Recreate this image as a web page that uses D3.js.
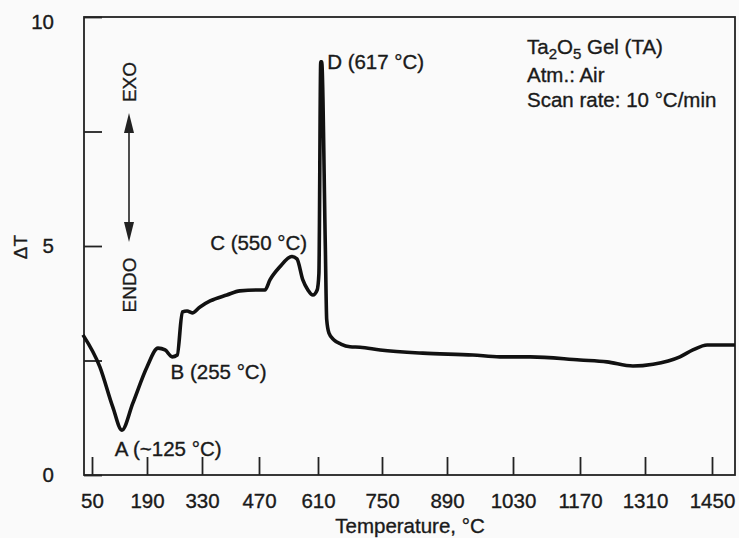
<!DOCTYPE html>
<html>
<head>
<meta charset="utf-8">
<script src="https://cdn.jsdelivr.net/npm/d3@7"></script>
<style>
  body { margin: 0; background: #fafafa; }
  svg text { font-family: "Liberation Sans", Arial, Helvetica, sans-serif; fill: #1a1a1a; stroke: #1a1a1a; stroke-width: 0.35; }
</style>
</head>
<body>
<svg id="dta" width="739" height="538"></svg>
<script>
// DTA curve of Ta2O5 gel
var temps  = [27, 70, 103, 126, 154, 190, 218, 236, 254, 267, 280, 292, 305, 325, 350, 391, 423, 472, 484, 496, 519, 548, 560, 574, 586, 598, 608, 612, 616, 618, 626, 629, 634, 645, 660, 680, 702, 746, 838, 945, 1002, 1066, 1170, 1228, 1284, 1327, 1383, 1410, 1440, 1498];
var deltaT = [3.06, 2.36, 1.48, 0.98, 1.57, 2.36, 2.77, 2.73, 2.58, 2.62, 3.56, 3.58, 3.54, 3.67, 3.80, 3.93, 4.02, 4.04, 4.04, 4.26, 4.54, 4.77, 4.72, 4.26, 4.04, 3.93, 4.04, 4.4, 9.02, 9.02, 5.0, 3.4, 3.1, 2.95, 2.86, 2.80, 2.79, 2.73, 2.66, 2.62, 2.58, 2.58, 2.51, 2.47, 2.38, 2.42, 2.58, 2.73, 2.84, 2.84];

var xTicks = [50, 190, 330, 470, 610, 750, 890, 1030, 1170, 1310, 1450];
var yTicks = [0, 2.5, 5, 7.5, 10];
var yTickLabels = ["0", "", "5", "", "10"];

var peakLabels = ["A (~125 \u00b0C)", "B (255 \u00b0C)", "C (550 \u00b0C)", "D (617 \u00b0C)"];
var peakLabelT = [108, 250, 350, 630];
var peakLabelV = [0.57, 2.25, 5.07, 9.02];

var infoLines = ["Gel (TA)", "Atm.: Air", "Scan rate: 10 \u00b0C/min"];

// the printed temperature axis is not evenly spaced, so map tick by tick
var xTickPx = [92, 147, 202, 259, 318, 382, 447, 513, 580, 645, 712];

var svg = d3.select("#dta"),
    pLeft = 84, pRight = 735, pTop = 17, pBottom = 475,
    tickLen = 18,
    fs = 20.5;

var x = d3.scaleLinear().domain(xTicks).range(xTickPx);
var y = d3.scaleLinear().domain([0, 10]).range([pBottom, pTop]);

// frame
svg.append("rect")
    .attr("x", pLeft).attr("y", pTop)
    .attr("width", pRight - pLeft).attr("height", pBottom - pTop)
    .attr("fill", "none")
    .attr("stroke", "#222")
    .attr("stroke-width", 1.8);

// x axis: ticks point inward
var xAxis = d3.axisBottom(x).tickValues(xTicks)
    .tickFormat(d3.format("d"))
    .tickSize(-tickLen).tickPadding(18);
var gx = svg.append("g")
    .attr("transform", "translate(0," + pBottom + ")")
    .call(xAxis);
gx.select(".domain").remove();
gx.selectAll("line").attr("stroke", "#222").attr("stroke-width", 1.8);
gx.selectAll("text")
    .attr("font-size", fs)
    .attr("font-family", "Liberation Sans, Arial, sans-serif")
    .attr("fill", "#1a1a1a");

// y axis
var yAxis = d3.axisLeft(y).tickValues(yTicks)
    .tickFormat(function(d, i) { return yTickLabels[i]; })
    .tickSize(-tickLen).tickPadding(tickLen + 12);
var gy = svg.append("g")
    .attr("transform", "translate(" + pLeft + ",0)")
    .call(yAxis);
gy.select(".domain").remove();
gy.selectAll("line").attr("stroke", "#222").attr("stroke-width", 1.8);
gy.selectAll("text")
    .attr("font-size", fs)
    .attr("font-family", "Liberation Sans, Arial, sans-serif")
    .attr("fill", "#1a1a1a");
gy.selectAll(".tick").filter(function(d) { return d === 10; })
    .select("text").attr("dy", "0.55em");

// axis titles
svg.append("text")
    .attr("x", 410).attr("y", 533)
    .attr("text-anchor", "middle")
    .attr("font-size", fs)
    .text("Temperature, \u00b0C");

svg.append("text")
    .attr("transform", "translate(27,247) rotate(-90)")
    .attr("text-anchor", "middle")
    .attr("font-size", 19)
    .text("\u0394T");

// the curve
var pts = temps.map(function(t, i) { return [t, deltaT[i]]; });
var line = d3.line()
    .x(function(d) { return x(d[0]); })
    .y(function(d) { return y(d[1]); })
    .curve(d3.curveMonotoneX);

svg.append("path")
    .datum(pts)
    .attr("d", line)
    .attr("fill", "none")
    .attr("stroke", "#111")
    .attr("stroke-width", 3.6)
    .attr("stroke-linejoin", "round");

// peak labels
svg.selectAll(".peak")
    .data(peakLabels)
    .enter().append("text")
    .attr("class", "peak")
    .attr("x", function(d, i) { return x(peakLabelT[i]); })
    .attr("y", function(d, i) { return y(peakLabelV[i]); })
    .attr("dy", "0.35em")
    .attr("font-size", fs)
    .text(function(d) { return d; });

// info block, top right
var info = svg.append("g").attr("transform", "translate(527,0)");
var first = info.append("text").attr("y", 54).attr("font-size", fs);
first.append("tspan").text("Ta");
first.append("tspan").attr("dy", 5).attr("font-size", 15).text("2");
first.append("tspan").attr("dy", -5).text("O");
first.append("tspan").attr("dy", 5).attr("font-size", 15).text("5");
first.append("tspan").attr("dy", -5).text(" " + infoLines[0]);
info.append("text").attr("y", 82).attr("font-size", fs).text(infoLines[1]);
info.append("text").attr("y", 107).attr("font-size", fs).text(infoLines[2]);

// EXO / ENDO arrow
var ax = 129;
svg.append("line")
    .attr("x1", ax).attr("x2", ax)
    .attr("y1", 125).attr("y2", 230)
    .attr("stroke", "#222").attr("stroke-width", 1.6);
svg.append("path")
    .attr("d", "M" + ax + ",113 L" + (ax - 5) + ",133 L" + (ax + 5) + ",133 Z")
    .attr("fill", "#222");
svg.append("path")
    .attr("d", "M" + ax + ",242 L" + (ax - 5) + ",222 L" + (ax + 5) + ",222 Z")
    .attr("fill", "#222");

svg.append("text")
    .attr("transform", "translate(" + (ax + 7) + ",82) rotate(-90)")
    .attr("text-anchor", "middle")
    .attr("font-size", 19)
    .text("EXO");
svg.append("text")
    .attr("transform", "translate(" + (ax + 7) + ",285) rotate(-90)")
    .attr("text-anchor", "middle")
    .attr("font-size", 19)
    .text("ENDO");
</script>
</body>
</html>
